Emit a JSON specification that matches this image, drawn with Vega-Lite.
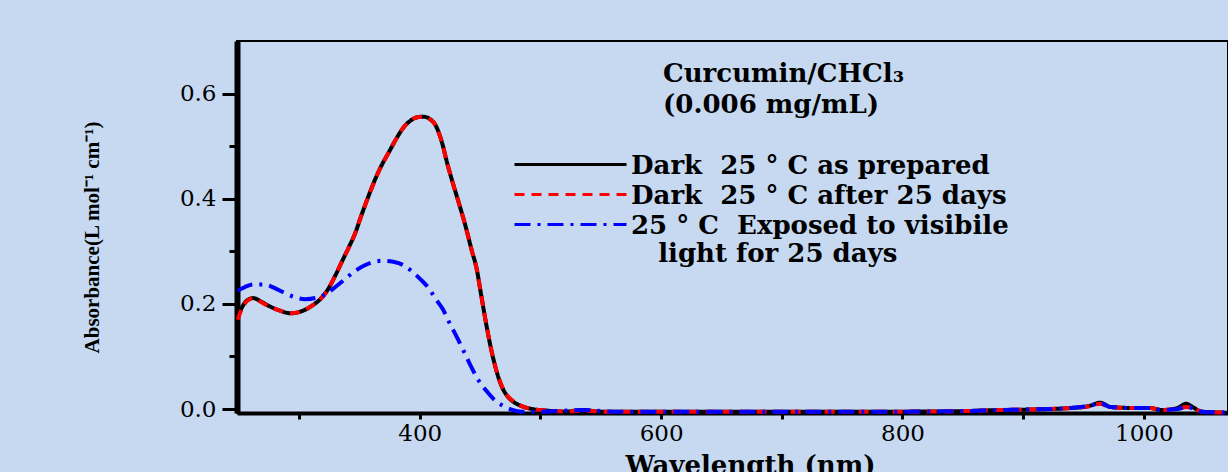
{
  "$schema": "https://vega.github.io/schema/vega-lite/v6.json",
  "width": 991,
  "height": 372,
  "autosize": {"type": "none"},
  "padding": {"left": 237, "top": 41, "right": 0, "bottom": 59},
  "background": "#c6d9f0",
  "config": {"view": {"stroke": "black", "strokeWidth": 2}, "font": "DejaVu Serif"},
  "title": {
    "text": ["Curcumin/CHCl₃", "(0.006 mg/mL)"],
    "anchor": "start", "frame": "group", "orient": "top", "offset": 0,
    "baseline": "top", "dx": 426, "dy": 77,
    "font": "DejaVu Serif", "fontSize": 26, "fontWeight": "bold", "color": "black", "lineHeight": 31
  },
  "data": {"values": [
    {"series": "prepared", "wavelength": 249, "A": 0.175}, {"series": "prepared", "wavelength": 253, "A": 0.195},
    {"series": "prepared", "wavelength": 257, "A": 0.207}, {"series": "prepared", "wavelength": 262, "A": 0.211},
    {"series": "prepared", "wavelength": 268, "A": 0.205}, {"series": "prepared", "wavelength": 275, "A": 0.196},
    {"series": "prepared", "wavelength": 283, "A": 0.188}, {"series": "prepared", "wavelength": 293, "A": 0.182},
    {"series": "prepared", "wavelength": 302, "A": 0.186}, {"series": "prepared", "wavelength": 311, "A": 0.197},
    {"series": "prepared", "wavelength": 318, "A": 0.21}, {"series": "prepared", "wavelength": 324, "A": 0.228},
    {"series": "prepared", "wavelength": 330, "A": 0.254}, {"series": "prepared", "wavelength": 336, "A": 0.283},
    {"series": "prepared", "wavelength": 341, "A": 0.307}, {"series": "prepared", "wavelength": 346, "A": 0.332},
    {"series": "prepared", "wavelength": 352, "A": 0.371}, {"series": "prepared", "wavelength": 358, "A": 0.408},
    {"series": "prepared", "wavelength": 363, "A": 0.437}, {"series": "prepared", "wavelength": 368, "A": 0.462},
    {"series": "prepared", "wavelength": 374, "A": 0.487}, {"series": "prepared", "wavelength": 380, "A": 0.512},
    {"series": "prepared", "wavelength": 386, "A": 0.534}, {"series": "prepared", "wavelength": 392, "A": 0.548},
    {"series": "prepared", "wavelength": 398, "A": 0.555}, {"series": "prepared", "wavelength": 403, "A": 0.556},
    {"series": "prepared", "wavelength": 408, "A": 0.552}, {"series": "prepared", "wavelength": 413, "A": 0.54},
    {"series": "prepared", "wavelength": 418, "A": 0.51}, {"series": "prepared", "wavelength": 423, "A": 0.465},
    {"series": "prepared", "wavelength": 428, "A": 0.425}, {"series": "prepared", "wavelength": 433, "A": 0.387},
    {"series": "prepared", "wavelength": 438, "A": 0.347}, {"series": "prepared", "wavelength": 443, "A": 0.302},
    {"series": "prepared", "wavelength": 447, "A": 0.268}, {"series": "prepared", "wavelength": 451, "A": 0.215},
    {"series": "prepared", "wavelength": 455, "A": 0.162}, {"series": "prepared", "wavelength": 459, "A": 0.115},
    {"series": "prepared", "wavelength": 463, "A": 0.077}, {"series": "prepared", "wavelength": 467, "A": 0.048},
    {"series": "prepared", "wavelength": 472, "A": 0.026}, {"series": "prepared", "wavelength": 478, "A": 0.013},
    {"series": "prepared", "wavelength": 485, "A": 0.005}, {"series": "prepared", "wavelength": 493, "A": 0.0},
    {"series": "prepared", "wavelength": 505, "A": -0.003}, {"series": "prepared", "wavelength": 520, "A": -0.005},
    {"series": "prepared", "wavelength": 535, "A": -0.002}, {"series": "prepared", "wavelength": 550, "A": -0.005},
    {"series": "prepared", "wavelength": 600, "A": -0.005}, {"series": "prepared", "wavelength": 650, "A": -0.005},
    {"series": "prepared", "wavelength": 700, "A": -0.005}, {"series": "prepared", "wavelength": 750, "A": -0.005},
    {"series": "prepared", "wavelength": 800, "A": -0.005}, {"series": "prepared", "wavelength": 850, "A": -0.004},
    {"series": "prepared", "wavelength": 880, "A": -0.002}, {"series": "prepared", "wavelength": 905, "A": -0.001},
    {"series": "prepared", "wavelength": 940, "A": 0.002}, {"series": "prepared", "wavelength": 955, "A": 0.006},
    {"series": "prepared", "wavelength": 964, "A": 0.012}, {"series": "prepared", "wavelength": 972, "A": 0.004},
    {"series": "prepared", "wavelength": 990, "A": 0.002}, {"series": "prepared", "wavelength": 1005, "A": 0.002},
    {"series": "prepared", "wavelength": 1015, "A": -0.002}, {"series": "prepared", "wavelength": 1028, "A": 0.002},
    {"series": "prepared", "wavelength": 1035, "A": 0.01}, {"series": "prepared", "wavelength": 1041, "A": 0.003},
    {"series": "prepared", "wavelength": 1048, "A": -0.005}, {"series": "prepared", "wavelength": 1069, "A": -0.007},

    {"series": "after", "wavelength": 249, "A": 0.17}, {"series": "after", "wavelength": 253, "A": 0.193},
    {"series": "after", "wavelength": 257, "A": 0.206}, {"series": "after", "wavelength": 262, "A": 0.211},
    {"series": "after", "wavelength": 268, "A": 0.204}, {"series": "after", "wavelength": 275, "A": 0.195},
    {"series": "after", "wavelength": 283, "A": 0.188}, {"series": "after", "wavelength": 293, "A": 0.182},
    {"series": "after", "wavelength": 302, "A": 0.186}, {"series": "after", "wavelength": 311, "A": 0.197},
    {"series": "after", "wavelength": 318, "A": 0.21}, {"series": "after", "wavelength": 324, "A": 0.228},
    {"series": "after", "wavelength": 330, "A": 0.254}, {"series": "after", "wavelength": 336, "A": 0.283},
    {"series": "after", "wavelength": 341, "A": 0.306}, {"series": "after", "wavelength": 346, "A": 0.332},
    {"series": "after", "wavelength": 352, "A": 0.371}, {"series": "after", "wavelength": 358, "A": 0.408},
    {"series": "after", "wavelength": 363, "A": 0.436}, {"series": "after", "wavelength": 368, "A": 0.462},
    {"series": "after", "wavelength": 374, "A": 0.487}, {"series": "after", "wavelength": 380, "A": 0.512},
    {"series": "after", "wavelength": 386, "A": 0.534}, {"series": "after", "wavelength": 392, "A": 0.548},
    {"series": "after", "wavelength": 398, "A": 0.555}, {"series": "after", "wavelength": 403, "A": 0.556},
    {"series": "after", "wavelength": 408, "A": 0.552}, {"series": "after", "wavelength": 413, "A": 0.54},
    {"series": "after", "wavelength": 418, "A": 0.51}, {"series": "after", "wavelength": 423, "A": 0.465},
    {"series": "after", "wavelength": 428, "A": 0.425}, {"series": "after", "wavelength": 433, "A": 0.387},
    {"series": "after", "wavelength": 438, "A": 0.347}, {"series": "after", "wavelength": 443, "A": 0.302},
    {"series": "after", "wavelength": 447, "A": 0.268}, {"series": "after", "wavelength": 451, "A": 0.215},
    {"series": "after", "wavelength": 455, "A": 0.162}, {"series": "after", "wavelength": 459, "A": 0.115},
    {"series": "after", "wavelength": 463, "A": 0.077}, {"series": "after", "wavelength": 467, "A": 0.049},
    {"series": "after", "wavelength": 472, "A": 0.027}, {"series": "after", "wavelength": 478, "A": 0.014},
    {"series": "after", "wavelength": 485, "A": 0.005}, {"series": "after", "wavelength": 493, "A": 0.0},
    {"series": "after", "wavelength": 505, "A": -0.003}, {"series": "after", "wavelength": 520, "A": -0.005},
    {"series": "after", "wavelength": 535, "A": -0.003}, {"series": "after", "wavelength": 550, "A": -0.005},
    {"series": "after", "wavelength": 600, "A": -0.005}, {"series": "after", "wavelength": 650, "A": -0.005},
    {"series": "after", "wavelength": 700, "A": -0.005}, {"series": "after", "wavelength": 750, "A": -0.005},
    {"series": "after", "wavelength": 800, "A": -0.005}, {"series": "after", "wavelength": 850, "A": -0.004},
    {"series": "after", "wavelength": 880, "A": -0.002}, {"series": "after", "wavelength": 905, "A": -0.001},
    {"series": "after", "wavelength": 940, "A": 0.002}, {"series": "after", "wavelength": 955, "A": 0.005},
    {"series": "after", "wavelength": 964, "A": 0.01}, {"series": "after", "wavelength": 972, "A": 0.003},
    {"series": "after", "wavelength": 990, "A": 0.002}, {"series": "after", "wavelength": 1005, "A": 0.002},
    {"series": "after", "wavelength": 1015, "A": -0.002}, {"series": "after", "wavelength": 1028, "A": 0.0},
    {"series": "after", "wavelength": 1035, "A": 0.004}, {"series": "after", "wavelength": 1041, "A": 0.001},
    {"series": "after", "wavelength": 1048, "A": -0.005}, {"series": "after", "wavelength": 1069, "A": -0.007},

    {"series": "exposed", "wavelength": 249, "A": 0.225}, {"series": "exposed", "wavelength": 255, "A": 0.232},
    {"series": "exposed", "wavelength": 262, "A": 0.237}, {"series": "exposed", "wavelength": 270, "A": 0.237},
    {"series": "exposed", "wavelength": 278, "A": 0.232}, {"series": "exposed", "wavelength": 287, "A": 0.222},
    {"series": "exposed", "wavelength": 296, "A": 0.213}, {"series": "exposed", "wavelength": 305, "A": 0.209},
    {"series": "exposed", "wavelength": 315, "A": 0.212}, {"series": "exposed", "wavelength": 323, "A": 0.22},
    {"series": "exposed", "wavelength": 330, "A": 0.232}, {"series": "exposed", "wavelength": 338, "A": 0.247},
    {"series": "exposed", "wavelength": 346, "A": 0.262}, {"series": "exposed", "wavelength": 354, "A": 0.273},
    {"series": "exposed", "wavelength": 362, "A": 0.28}, {"series": "exposed", "wavelength": 370, "A": 0.282},
    {"series": "exposed", "wavelength": 378, "A": 0.28}, {"series": "exposed", "wavelength": 386, "A": 0.274},
    {"series": "exposed", "wavelength": 393, "A": 0.263}, {"series": "exposed", "wavelength": 400, "A": 0.248},
    {"series": "exposed", "wavelength": 407, "A": 0.231}, {"series": "exposed", "wavelength": 413, "A": 0.21},
    {"series": "exposed", "wavelength": 419, "A": 0.19}, {"series": "exposed", "wavelength": 425, "A": 0.162},
    {"series": "exposed", "wavelength": 430, "A": 0.14}, {"series": "exposed", "wavelength": 436, "A": 0.112},
    {"series": "exposed", "wavelength": 442, "A": 0.083}, {"series": "exposed", "wavelength": 448, "A": 0.057},
    {"series": "exposed", "wavelength": 455, "A": 0.035}, {"series": "exposed", "wavelength": 462, "A": 0.017},
    {"series": "exposed", "wavelength": 469, "A": 0.006}, {"series": "exposed", "wavelength": 476, "A": -0.001},
    {"series": "exposed", "wavelength": 485, "A": -0.005}, {"series": "exposed", "wavelength": 500, "A": -0.005},
    {"series": "exposed", "wavelength": 535, "A": -0.002}, {"series": "exposed", "wavelength": 560, "A": -0.005},
    {"series": "exposed", "wavelength": 600, "A": -0.005}, {"series": "exposed", "wavelength": 650, "A": -0.005},
    {"series": "exposed", "wavelength": 700, "A": -0.005}, {"series": "exposed", "wavelength": 750, "A": -0.005},
    {"series": "exposed", "wavelength": 800, "A": -0.005}, {"series": "exposed", "wavelength": 850, "A": -0.004},
    {"series": "exposed", "wavelength": 880, "A": -0.002}, {"series": "exposed", "wavelength": 905, "A": -0.001},
    {"series": "exposed", "wavelength": 940, "A": 0.002}, {"series": "exposed", "wavelength": 955, "A": 0.006},
    {"series": "exposed", "wavelength": 964, "A": 0.011}, {"series": "exposed", "wavelength": 972, "A": 0.004},
    {"series": "exposed", "wavelength": 990, "A": 0.002}, {"series": "exposed", "wavelength": 1005, "A": 0.002},
    {"series": "exposed", "wavelength": 1015, "A": -0.002}, {"series": "exposed", "wavelength": 1028, "A": 0.0},
    {"series": "exposed", "wavelength": 1035, "A": 0.004}, {"series": "exposed", "wavelength": 1041, "A": 0.001},
    {"series": "exposed", "wavelength": 1048, "A": -0.005}, {"series": "exposed", "wavelength": 1069, "A": -0.007}
  ]},
  "mark": {"type": "line", "strokeWidth": 4, "interpolate": "monotone"},
  "encoding": {
    "x": {
      "field": "wavelength", "type": "quantitative",
      "scale": {"domain": [248.5, 1069.8], "nice": false, "zero": false},
      "axis": {
        "values": [300, 400, 500, 600, 700, 800, 900, 1000],
        "labelExpr": "datum.value % 200 == 0 ? format(datum.value, 'd') : ''",
        "grid": false, "tickSize": 6, "tickWidth": 3, "tickColor": "black",
        "domainColor": "black", "domainWidth": 4,
        "labelFont": "DejaVu Serif", "labelFontSize": 23, "labelColor": "black", "labelPadding": 3,
        "title": "Wavelength (nm)", "titleFont": "DejaVu Serif", "titleFontSize": 26, "titleFontWeight": "bold",
        "titleColor": "black", "titleX": 513, "titleY": 39, "titleBaseline": "top", "titleAlign": "center"
      }
    },
    "y": {
      "field": "A", "type": "quantitative",
      "scale": {"domain": [-0.0076, 0.7], "nice": false, "zero": false},
      "axis": {
        "values": [0, 0.1, 0.2, 0.3, 0.4, 0.5, 0.6],
        "labelExpr": "round(datum.value * 10) % 2 == 0 ? format(datum.value, '.1f') : ''",
        "grid": false,
        "tickSize": {"condition": {"test": "round(datum.value * 10) % 2 == 0", "value": 15}, "value": 8},
        "tickWidth": 3, "tickColor": "black",
        "domainColor": "black", "domainWidth": 6,
        "labelFont": "DejaVu Serif", "labelFontSize": 23, "labelColor": "black", "labelPadding": 6,
        "title": "Absorbance(L mol⁻¹ cm⁻¹)", "titleFont": "Liberation Serif", "titleFontSize": 21, "titleFontWeight": "bold",
        "titleColor": "black", "titleX": -145, "titleY": 196, "titleAngle": -90, "titleAlign": "center", "titleBaseline": "middle"
      }
    },
    "color": {
      "field": "series", "type": "nominal",
      "scale": {"domain": ["prepared", "after", "exposed"], "range": ["#000000", "#ff0000", "#0000ff"]},
      "legend": {
        "orient": "none", "legendX": 276, "legendY": 110, "title": null, "padding": 0,
        "symbolType": "stroke", "symbolSize": 12544, "symbolStrokeWidth": 3, "clipHeight": 27, "rowPadding": 2,
        "labelFont": "DejaVu Serif", "labelFontSize": 26, "labelFontWeight": "bold", "labelColor": "black",
        "labelLimit": 900, "labelOffset": 3, "labelBaseline": "top",
        "labelExpr": "datum.label == 'prepared' ? 'Dark\u00a0 25 ° C as prepared' : datum.label == 'after' ? 'Dark\u00a0 25 ° C after 25 days' : ['25 ° C\u00a0 Exposed to visibile', '\u200b\u00a0\u00a0\u00a0light for 25 days']",
        "encode": {"labels": {"update": {"dy": {"value": -12}}}}
      }
    },
    "strokeDash": {
      "field": "series", "type": "nominal",
      "scale": {"domain": ["prepared", "after", "exposed"], "range": [[1, 0], [10, 7], [16, 7, 3, 7]]},
      "legend": {
        "orient": "none", "legendX": 276, "legendY": 110, "title": null, "padding": 0,
        "symbolType": "stroke", "symbolSize": 12544, "symbolStrokeWidth": 3, "clipHeight": 27, "rowPadding": 2,
        "labelFont": "DejaVu Serif", "labelFontSize": 26, "labelFontWeight": "bold", "labelColor": "black",
        "labelLimit": 900, "labelOffset": 3, "labelBaseline": "top",
        "labelExpr": "datum.label == 'prepared' ? 'Dark\u00a0 25 ° C as prepared' : datum.label == 'after' ? 'Dark\u00a0 25 ° C after 25 days' : ['25 ° C\u00a0 Exposed to visibile', '\u200b\u00a0\u00a0\u00a0light for 25 days']",
        "encode": {"labels": {"update": {"dy": {"value": -12}}}}
      }
    }
  }
}
